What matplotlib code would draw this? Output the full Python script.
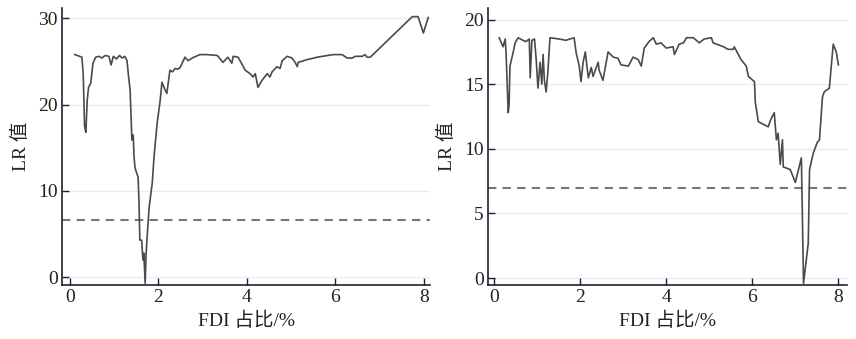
import matplotlib
matplotlib.use("Agg")
import matplotlib.pyplot as plt

plt.rcParams['font.family'] = ['Liberation Serif', 'Noto Sans CJK SC', 'DejaVu Sans']

# Left panel data
left_x = [0.11, 0.27, 0.30, 0.33, 0.36, 0.39, 0.42, 0.47, 0.52, 0.58, 0.66, 0.72, 0.80, 0.88, 0.93,
          0.98, 1.05, 1.12, 1.18, 1.24, 1.29, 1.32, 1.36, 1.40, 1.43, 1.45, 1.47, 1.50, 1.54, 1.56,
          1.58, 1.62, 1.65, 1.67, 1.70, 1.72, 1.74, 1.79, 1.86, 1.90, 1.97, 2.04, 2.08, 2.15, 2.19,
          2.26, 2.32, 2.38, 2.44, 2.49, 2.60, 2.67, 2.80, 2.94, 3.10, 3.33, 3.46, 3.57, 3.66, 3.69,
          3.80, 3.90, 3.96, 4.07, 4.14, 4.19, 4.25, 4.34, 4.46, 4.52, 4.57, 4.68, 4.75, 4.80, 4.91,
          5.02, 5.09, 5.14, 5.16, 5.35, 5.59, 5.95, 6.15, 6.27, 6.38, 6.45, 6.61, 6.67, 6.72, 6.79,
          7.74, 7.87, 7.99, 8.10]
left_y = [25.8, 25.5, 23.5, 17.5, 16.8, 20.5, 22.0, 22.5, 24.8, 25.5, 25.6, 25.4, 25.7, 25.6, 24.6,
          25.6, 25.3, 25.7, 25.4, 25.6, 25.1, 23.5, 21.7, 15.9, 16.5, 13.9, 12.7, 12.2, 11.6, 8.9,
          4.3, 4.3, 2.0, 2.8, -0.7, 2.5, 4.3, 8.1, 10.9, 13.9, 17.8, 20.5, 22.6, 21.7, 21.3,
          24.0, 23.8, 24.2, 24.1, 24.3, 25.5, 25.1, 25.5, 25.8, 25.8, 25.7, 24.9, 25.5, 24.8, 25.6,
          25.5, 24.6, 24.0, 23.6, 23.2, 23.6, 22.0, 22.8, 23.6, 23.2, 23.8, 24.4, 24.2, 25.1, 25.6,
          25.4, 24.9, 24.4, 24.9, 25.2, 25.5, 25.8, 25.8, 25.4, 25.4, 25.6, 25.6, 25.8, 25.5, 25.5,
          30.2, 30.2, 28.3, 30.1]
left_threshold = 6.6

# Right panel data
right_x = [0.12, 0.21, 0.26, 0.28, 0.33, 0.35, 0.37, 0.44, 0.49, 0.56, 0.67, 0.74, 0.82, 0.84, 0.88,
           0.94, 0.98, 1.02, 1.07, 1.11, 1.14, 1.17, 1.21, 1.25, 1.30, 1.51, 1.67, 1.86, 1.91, 1.98,
           2.02, 2.07, 2.12, 2.19, 2.26, 2.30, 2.42, 2.44, 2.53, 2.65, 2.77, 2.88, 2.95, 3.12, 3.23,
           3.35, 3.42, 3.49, 3.60, 3.70, 3.77, 3.88, 4.00, 4.16, 4.19, 4.30, 4.40, 4.47, 4.63, 4.77,
           4.88, 5.05, 5.09, 5.33, 5.44, 5.56, 5.58, 5.74, 5.86, 5.91, 6.05, 6.07, 6.14, 6.37, 6.42,
           6.51, 6.56, 6.60, 6.65, 6.70, 6.72, 6.88, 7.00, 7.14, 7.19, 7.30, 7.33, 7.42, 7.51, 7.56,
           7.63, 7.67, 7.79, 7.88, 7.95, 8.00]
right_y = [18.6, 17.9, 18.5, 17.4, 12.8, 13.4, 16.4, 17.4, 18.2, 18.6, 18.4, 18.3, 18.5, 15.5, 18.4,
           18.5, 16.9, 14.7, 16.7, 15.0, 17.3, 15.3, 14.4, 15.9, 18.6, 18.5, 18.4, 18.6, 17.4, 16.4,
           15.2, 16.7, 17.5, 15.5, 16.3, 15.6, 16.7, 16.1, 15.3, 17.5, 17.1, 17.0, 16.5, 16.4, 17.1,
           16.9, 16.4, 17.8, 18.3, 18.6, 18.1, 18.2, 17.8, 17.9, 17.3, 18.1, 18.2, 18.6, 18.6, 18.2,
           18.5, 18.6, 18.2, 17.9, 17.7, 17.7, 17.9, 16.9, 16.4, 15.6, 15.2, 13.6, 12.1, 11.7, 12.2,
           12.8, 10.7, 11.2, 8.8, 10.7, 8.6, 8.4, 7.4, 9.3, -0.4, 2.7, 8.4, 9.7, 10.5, 10.7,
           14.0, 14.4, 14.7, 18.1, 17.5, 16.5]
right_threshold = 7.0

x_ticks = [0, 2, 4, 6, 8]
left_yticks = [0, 10, 20, 30]
right_yticks = [0, 5, 10, 15, 20]
xlabel = "FDI 占比/%"
ylabel = "LR 值"

W, H = 856, 339
fig = plt.figure(figsize=(W / 100, H / 100), dpi=100)
ax1 = fig.add_axes([62 / W, 1 - 285 / H, (430 - 62) / W, (285 - 8) / H])
ax2 = fig.add_axes([488 / W, 1 - 285 / H, (847 - 488) / W, (285 - 8) / H])

spine_col = '#1c2233'
line_col = '#4a4a4a'

def style(ax, xs, ys, thr, yticks, xlim, ylim):
    ax.set_facecolor('white')
    for yt in yticks:
        ax.axhline(yt, color='#ececec', lw=1.0, zorder=0)
    ax.plot(xs, ys, color=line_col, lw=1.2, zorder=3)
    ax.axhline(thr, color='#777777', lw=1.5, ls=(0, (4, 3)), zorder=2)
    ax.set_xlim(*xlim)
    ax.set_ylim(*ylim)
    ax.set_xticks(x_ticks)
    ax.set_yticks(yticks)
    ax.spines['top'].set_visible(False)
    ax.spines['right'].set_visible(False)
    for s in ('left', 'bottom'):
        ax.spines[s].set_color(spine_col)
        ax.spines[s].set_linewidth(1.2)
    ax.tick_params(direction='in', length=5, width=1.0, color=spine_col,
                   labelsize=14, labelcolor='#222222', pad=3)
    ax.set_xlabel(xlabel, fontsize=14, color='#222222', labelpad=4)
    ax.set_ylabel(ylabel, fontsize=14, color='#222222', labelpad=6)

style(ax1, left_x, left_y, left_threshold, left_yticks, (-0.18, 8.14), (-0.9, 31.2))
style(ax2, right_x, right_y, right_threshold, right_yticks, (-0.14, 8.2), (-0.54, 20.9))

fig.savefig('out.png', dpi=100)
